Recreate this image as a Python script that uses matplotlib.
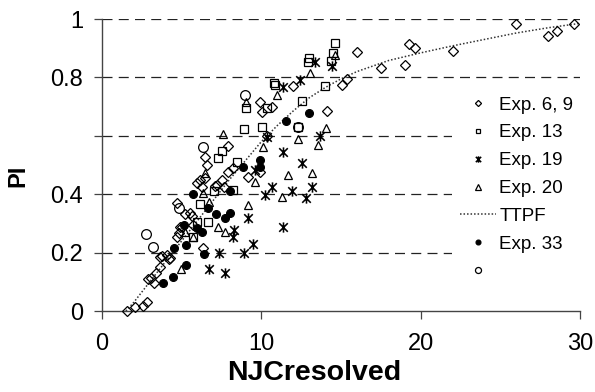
import matplotlib
matplotlib.use("Agg")
import matplotlib.pyplot as plt
from matplotlib.path import Path

plt.rcParams["font.family"] = ["Liberation Sans", "DejaVu Sans"]

# --- data -------------------------------------------------------------
exp69_x = [1.55, 2.07, 2.55, 2.80, 2.91, 3.06, 3.26, 3.39, 3.64, 3.64, 3.77, 4.06,
           4.21, 4.27, 4.73, 4.85, 4.90, 5.02, 4.73, 5.21, 5.52, 5.63, 5.73, 5.94,
           6.15, 6.47, 6.57, 6.47, 6.36, 6.26, 7.09, 7.20, 7.51, 7.68, 7.93, 7.93,
           8.24, 9.18, 9.92, 9.92, 10.03, 10.65, 10.34, 12.01, 14.14, 15.05, 15.40,
           16.03, 17.51, 19.02, 19.29, 19.65, 22.06, 25.97, 27.98, 28.54, 29.65]
exp69_y = [0.000, 0.015, 0.017, 0.032, 0.109, 0.114, 0.097, 0.129, 0.152, 0.186, 0.188, 0.192,
           0.177, 0.180, 0.252, 0.266, 0.289, 0.289, 0.369, 0.331, 0.335, 0.326, 0.294, 0.437,
           0.449, 0.454, 0.500, 0.528, 0.217, 0.424, 0.428, 0.432, 0.449, 0.426, 0.565, 0.477,
           0.489, 0.460, 0.477, 0.717, 0.683, 0.700, 0.600, 0.772, 0.685, 0.774, 0.793,
           0.886, 0.833, 0.842, 0.914, 0.902, 0.891, 0.983, 0.943, 0.960, 0.982]

exp13_x = [5.69, 5.94, 6.68, 6.15, 7.03, 8.20, 7.30, 7.55, 8.50, 8.93, 9.04, 10.03,
           10.38, 10.80, 10.86, 12.32, 12.54, 12.90, 13.00, 14.00, 14.38, 14.52, 14.63]
exp13_y = [0.252, 0.306, 0.306, 0.365, 0.412, 0.414, 0.523, 0.549, 0.511, 0.622, 0.694, 0.631,
           0.694, 0.782, 0.774, 0.631, 0.720, 0.852, 0.865, 0.771, 0.856, 0.882, 0.917]

exp19_x = [6.72, 7.70, 7.34, 8.93, 9.46, 8.20, 8.31, 9.18, 10.23, 10.65, 11.38, 11.90,
           12.80, 13.16, 12.54, 11.38, 10.34, 13.68, 11.38, 12.43, 13.37, 14.42, 9.60]
exp19_y = [0.144, 0.129, 0.198, 0.198, 0.228, 0.252, 0.277, 0.317, 0.397, 0.426, 0.289, 0.412,
           0.388, 0.426, 0.508, 0.546, 0.597, 0.599, 0.768, 0.791, 0.854, 0.839, 0.483]

exp20_x = [4.96, 5.23, 5.69, 6.36, 6.74, 7.30, 7.70, 6.47, 9.60, 9.18, 11.28, 11.70,
           13.20, 10.09, 12.32, 13.54, 14.04, 7.58, 9.04, 10.97, 13.06, 14.65]
exp20_y = [0.143, 0.270, 0.252, 0.403, 0.374, 0.289, 0.272, 0.472, 0.443, 0.363, 0.392, 0.466,
           0.474, 0.563, 0.588, 0.568, 0.626, 0.605, 0.717, 0.740, 0.814, 0.877]

exp33_x = [3.85, 4.48, 5.27, 4.52, 5.27, 5.15, 5.69, 5.98, 6.30, 6.42, 6.68, 7.16,
           7.72, 8.06, 8.04, 8.87, 9.92, 9.92, 11.55, 13.01]
exp33_y = [0.095, 0.118, 0.158, 0.215, 0.226, 0.295, 0.400, 0.283, 0.270, 0.195, 0.352, 0.332,
           0.317, 0.335, 0.412, 0.494, 0.517, 0.492, 0.652, 0.679]

open_x = [2.74, 3.22, 4.83, 6.36, 8.98, 12.32]
open_y = [0.263, 0.220, 0.352, 0.561, 0.740, 0.631]

ttpf_x = [1.5, 2.0, 3.0, 4.0, 5.0, 6.0, 7.0, 8.0, 9.0, 10.0, 11.0, 12.0, 13.0,
          14.0, 15.0, 16.0, 18.0, 20.0, 22.0, 24.0, 26.0, 28.0, 30.0]
ttpf_y = [0.0, 0.03, 0.10, 0.17, 0.24, 0.31, 0.38, 0.45, 0.515, 0.58, 0.635, 0.685, 0.73,
          0.765, 0.795, 0.82, 0.858, 0.884, 0.908, 0.93, 0.952, 0.97, 0.985]

y_ticks = [0, 0.2, 0.4, 0.6, 0.8, 1.0]
y_tick_labels = ["0", "0.2", "0.4", "", "0.8", "1"]
x_ticks = [0, 10, 20, 30]
x_tick_labels = ["0", "10", "20", "30"]

# --- star marker: an X crossed by a vertical bar -------------------------
star = Path(
    [(-1, -1), (1, 1), (-1, 1), (1, -1), (0, -1.2), (0, 1.2)],
    [Path.MOVETO, Path.LINETO, Path.MOVETO, Path.LINETO, Path.MOVETO, Path.LINETO],
)

fig = plt.figure(figsize=(5.95, 3.92), dpi=100)
ax = fig.add_axes([102 / 595, 81 / 392, 478 / 595, 292 / 392])

for yv in y_ticks[1:]:
    ax.axhline(yv, color="#222222", lw=0.9, ls=(0, (8, 5)), zorder=1)

ink = "black"
common = dict(ls="none", mec=ink, mew=0.9, clip_on=False, zorder=3)

ttpf_line, = ax.plot(ttpf_x, ttpf_y, color="#333333", lw=1.1, ls=(0, (1, 1.3)), zorder=2)
h69, = ax.plot(exp69_x, exp69_y, marker="D", ms=5.0, mfc="none", **common)
h13, = ax.plot(exp13_x, exp13_y, marker="s", ms=5.6, mfc="none", **common)
h19, = ax.plot(exp19_x, exp19_y, marker=star, ms=7.4, mfc="none",
               ls="none", mec=ink, mew=1.15, clip_on=False, zorder=3)
h20, = ax.plot(exp20_x, exp20_y, marker="^", ms=6.2, mfc="none", **common)
h33, = ax.plot(exp33_x, exp33_y, marker="o", ms=5.6, mfc=ink, **common)
hop, = ax.plot(open_x, open_y, marker="o", ms=7.0, mfc="none", **common)

ax.set_xlim(0, 30)
ax.set_ylim(0, 1)
ax.set_xticks(x_ticks)
ax.set_xticklabels(x_tick_labels)
ax.set_yticks(y_ticks)
ax.set_yticklabels(y_tick_labels)

for side in ("top", "right"):
    ax.spines[side].set_visible(False)
for side in ("left", "bottom"):
    ax.spines[side].set_color("#444444")
    ax.spines[side].set_linewidth(1.0)

ax.tick_params(axis="both", direction="out", length=5.5, width=0.9, color="#444444",
               labelsize=17)
ax.tick_params(axis="y", pad=8)
ax.tick_params(axis="x", pad=10)

fig.text(18 / 595, 1 - 176 / 392, "PI", rotation=90, ha="center", va="center",
         fontsize=17, fontweight="bold")
fig.text(314 / 595, 1 - 373 / 392, "NJCresolved", ha="center", va="center",
         fontsize=20.5, fontweight="bold")

handles = [h69, h13, h19, h20, ttpf_line, h33, hop]
labels = ["Exp. 6, 9", "Exp. 13", "Exp. 19", "Exp. 20", "TTPF", "Exp. 33", ""]
leg = fig.legend(handles, labels, loc="upper left",
                 bbox_to_anchor=(452 / 595, 1 - 89 / 392), borderaxespad=0,
                 frameon=True, fancybox=False, framealpha=1, facecolor="white",
                 edgecolor="none", fontsize=13.5, borderpad=0.4,
                 handlelength=1.97, handletextpad=0.15, labelspacing=0.57,
                 markerscale=0.62)
leg.set_zorder(5)

fig.savefig("out.png", dpi=100)
